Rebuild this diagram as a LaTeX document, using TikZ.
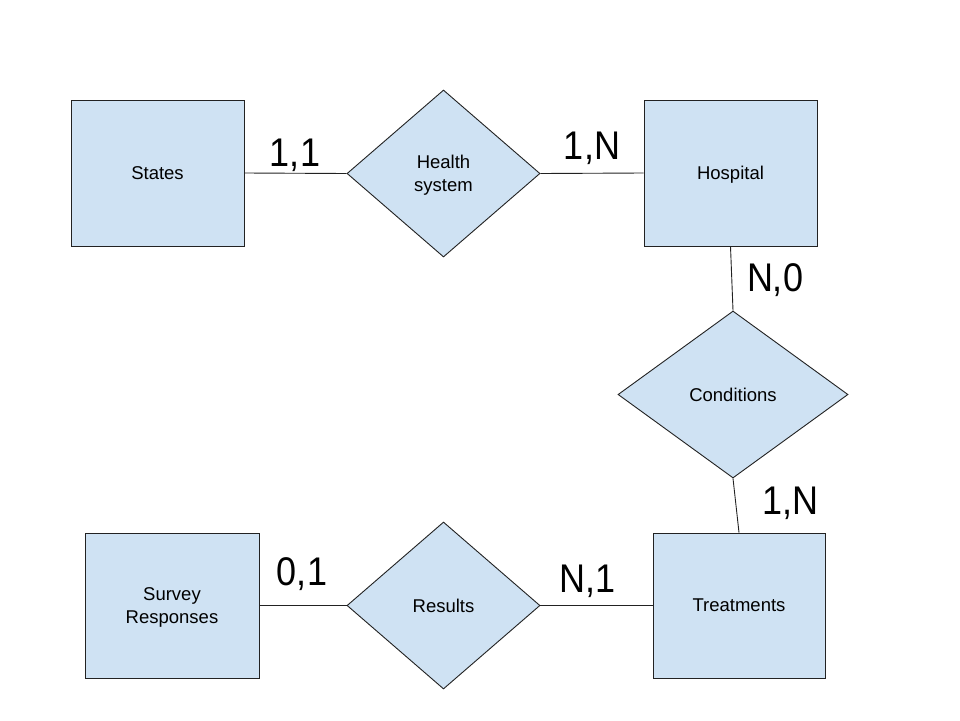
\documentclass[tikz,border=0pt]{standalone}
\usepackage{fontspec}
\setmainfont{Liberation Sans}
\usetikzlibrary{shapes.geometric}
\definecolor{erfill}{HTML}{CFE2F3}
\definecolor{erline}{HTML}{222222}
\newcommand{\cardtext}[1]{\scalebox{0.9}[1]{#1}}
\begin{document}
\begin{tikzpicture}[x=1pt,y=-1pt,
  entity/.style={draw=erline,fill=erfill,line width=0.9pt,inner sep=0pt,
    minimum width=173pt,minimum height=146pt,align=center,text depth=0pt,
    font=\fontsize{18.5}{22.5}\selectfont},
  relation/.style={draw=erline,fill=erfill,line width=0.9pt,diamond,inner sep=0pt,
    minimum width=193pt,minimum height=167pt,align=center,text depth=0pt,
    font=\fontsize{18.5}{22.5}\selectfont},
  link/.style={draw=erline,line width=0.9pt},
  card/.style={font=\fontsize{40}{44}\selectfont,inner sep=0pt}]
\useasboundingbox[fill=white] (0,0) rectangle (960,720);

% entities
\node[entity] (states) at (157.5,173) {States};
\node[entity] (hosp) at (730.5,173) {Hospital};
\node[entity,minimum width=172pt,minimum height=145pt] (treat) at (739,605.5) {Treatments};
\node[entity,minimum width=174pt,minimum height=145pt] (survey) at (172,605.5) {Survey\\Responses};

% relationships
\node[relation] (health) at (443.5,173.5) {Health\\system};
\node[relation,minimum width=230pt] (cond) at (733,394.5) {Conditions};
\node[relation] (results) at (443.5,605.5) {Results};

% connectors
\draw[link] (states.east) -- (health.west);
\draw[link] (health.east) -- (hosp.west);
\draw[link] (hosp.south) -- (cond.north);
\draw[link] (cond.south) -- (treat.north);
\draw[link] (survey.east) -- (results.west);
\draw[link] (results.east) -- (treat.west);

% cardinalities
\node[card] (c1) at (295,155) {\cardtext{1,1}};
\node[card] (c2) at (592,148) {\cardtext{1,N}};
\node[card] (c3) at (775,280) {\cardtext{N,0}};
\node[card] (c4) at (790,503) {\cardtext{1,N}};
\node[card] (c5) at (302,574) {\cardtext{0,1}};
\node[card] (c6) at (588,581) {\cardtext{N,1}};
\end{tikzpicture}
\end{document}
